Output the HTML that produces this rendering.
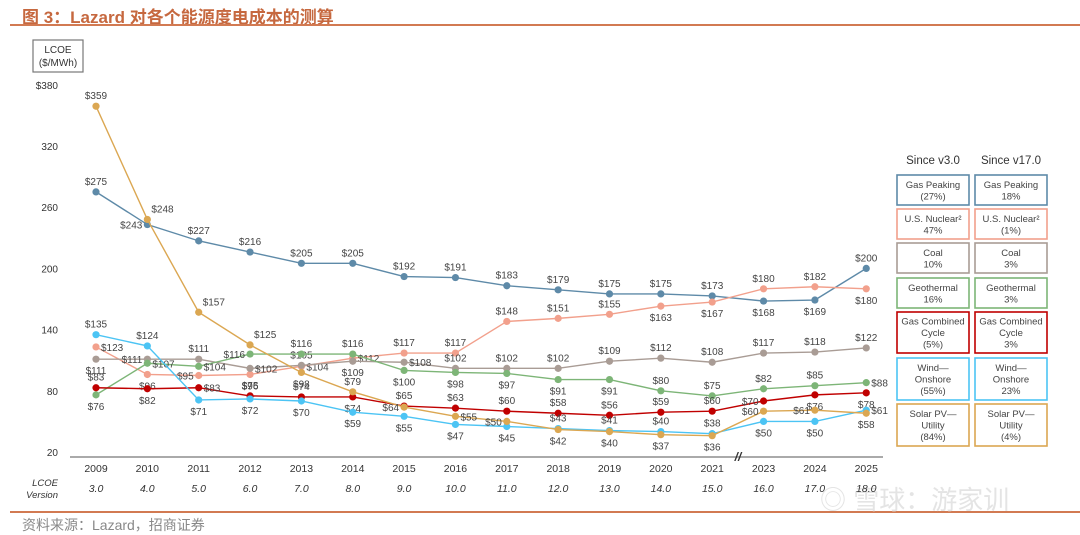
<!DOCTYPE html>
<html><head><meta charset="utf-8"><style>
body{margin:0;background:#fff;width:1080px;height:533px;overflow:hidden;position:relative;font-family:"Liberation Sans","Noto Sans CJK SC",sans-serif}
.t{position:absolute}
</style></head><body>
<div class="t" style="left:22px;top:3px;font-size:17px;font-weight:bold;color:#c6683f">图 3：Lazard 对各个能源度电成本的测算</div>
<div class="t" style="left:10px;top:24px;width:1070px;height:2px;background:#d27a52"></div>
<div class="t" style="left:10px;top:511px;width:1070px;height:2px;background:#d27a52"></div>
<div class="t" style="left:22px;top:515px;font-size:14px;color:#888">资料来源：Lazard，招商证券</div>
<div class="t" style="left:820px;top:480px;font-size:26px;color:#e4e4e4">◎ 雪球：游家训</div>
<svg id="c" width="1080" height="533" style="position:absolute;left:0;top:0"></svg>
<script>
const years=["2009","2010","2011","2012","2013","2014","2015","2016","2017","2018","2019","2020","2021","2023","2024","2025"];
const versions=["3.0","4.0","5.0","6.0","7.0","8.0","9.0","10.0","11.0","12.0","13.0","14.0","15.0","16.0","17.0","18.0"];
const yTicks=[20,80,140,200,260,320,380];
const gasPeaking=[275,243,227,216,205,205,192,191,183,179,175,175,173,168,169,200];
const nuclear=[123,96,95,96,104,112,117,117,148,151,155,163,167,180,182,180];
const coal=[111,111,111,102,105,109,108,102,102,102,109,112,108,117,118,122];
const geothermal=[76,107,104,116,116,116,100,98,97,91,91,80,75,82,85,88];
const gasCC=[83,82,83,75,74,74,65,63,60,58,56,59,60,70,76,78];
const wind=[135,124,71,72,70,59,55,47,45,43,41,40,38,50,50,61];
const solar=[359,248,157,125,98,79,64,55,50,42,40,37,36,60,61,58];
const series=[
 {n:"gas-peaking",v:gasPeaking,c:"#5e8aa8",p:"aLaaaaaaaaaaabba"},
 {n:"us-nuclear",v:nuclear,c:"#f2a08c",p:"rbLbrraaaaabbaab"},
 {n:"coal",v:coal,c:"#a99c95",p:"bLarabraaaaaaaaa"},
 {n:"geothermal",v:geothermal,c:"#7db577",p:"brrLaabbbbbaaaar"},
 {n:"gas-combined-cycle",v:gasCC,c:"#c00000",p:"abraabaaaaaaaLbb"},
 {n:"wind-onshore",v:wind,c:"#4cc4f4",p:"aabbbbbbbaaaabbr"},
 {n:"solar-pv-utility",v:solar,c:"#dba752",p:"aRRRbaLrLbbbbLLb"}
];
const NS="http://www.w3.org/2000/svg";
const svg=document.getElementById('c');
const X=i=>96+i*51.35;
const Y=v=>452-(v-20)*1.02;
function mk(t,a,txt){const e=document.createElementNS(NS,t);for(const k in a)e.setAttribute(k,a[k]);if(txt!=null)e.textContent=txt;svg.appendChild(e);return e;}
// axis box
let b=mk('rect',{x:33,y:40,width:50,height:32,fill:'#fff',stroke:'#777','stroke-width':1.2});


let t1=mk('text',{x:58,y:53,'font-size':10,'text-anchor':'middle',fill:'#333'},'LCOE');


let t2=mk('text',{x:58,y:66,'font-size':10,'text-anchor':'middle',fill:'#333'},'($/MWh)');


yTicks.forEach(v=>{let e=mk('text',{x:58,y:Y(v)+4,'font-size':10,'text-anchor':'end',fill:'#333'},(v===380?'$':'')+v);

});
let ax=mk('line',{x1:70,x2:883,y1:457,y2:457,stroke:'#aaa','stroke-width':2});


let br=mk('text',{x:738,y:461,'font-size':12,'font-weight':'bold','text-anchor':'middle',fill:'#333','font-style':'italic'},'//');


years.forEach((y,i)=>{let e=mk('text',{x:X(i),y:472,'font-size':10.5,'text-anchor':'middle',fill:'#333'},y);


let f=mk('text',{x:X(i),y:492,'font-size':10.5,'text-anchor':'middle',fill:'#333','font-style':'italic'},versions[i]);

});
let lv=mk('text',{x:58,y:486,'font-size':9.5,'text-anchor':'end',fill:'#333','font-style':'italic'},'LCOE');


let lv2=mk('text',{x:58,y:498,'font-size':9.5,'text-anchor':'end',fill:'#333','font-style':'italic'},'Version');


series.forEach(s=>{
 const pts=s.v.map((v,i)=>X(i)+','+Y(v)).join(' ');
 let pl=mk('polyline',{points:pts,fill:'none',stroke:s.c,'stroke-width':1.4});
 
 
 s.v.forEach((v,i)=>{
  let c=mk('circle',{cx:X(i),cy:Y(v),r:3.6,fill:s.c});
  
  
  const p=s.p[i];let x=X(i),y=Y(v),a='middle';
  if(p==='a'){y-=7;}else if(p==='b'){y+=15;}else if(p==='r'){x+=5;y+=4;a='start';}
  else if(p==='L'){x-=5;y+=4;a='end';}else if(p==='R'){x+=4;y-=7;a='start';}
  let l=mk('text',{x:x,y:y,'font-size':10,'text-anchor':a,fill:'#444'},'$'+v);
  
  
 });
});
// legend
const legNames=[["Gas Peaking"],["U.S. Nuclear²"],["Coal"],["Geothermal"],["Gas Combined","Cycle"],["Wind—","Onshore"],["Solar PV—","Utility"]];
const since3=["(27%)","47%","10%","16%","(5%)","(55%)","(84%)"];
const since17=["18%","(1%)","3%","3%","3%","23%","(4%)"];
const rowTop=[175,209,243,278,312,358,404];
const rowH=[30,30,30,30,41,42,42];
let h1=mk('text',{x:933,y:164,'font-size':11.5,'text-anchor':'middle',fill:'#333'},'Since v3.0');


let h2=mk('text',{x:1011,y:164,'font-size':11.5,'text-anchor':'middle',fill:'#333'},'Since v17.0');


series.forEach((s,k)=>{
 [[897,since3],[975,since17]].forEach(([lx,arr])=>{
  let r=mk('rect',{x:lx,y:rowTop[k],width:72,height:rowH[k],fill:'#fff',stroke:s.c,'stroke-width':1.6});
  
  
  const lines=legNames[k].concat([arr[k]]);
  const lh=11.5, start=rowTop[k]+rowH[k]/2-(lines.length-1)*lh/2+3.5;
  lines.forEach((ln,j)=>{let e=mk('text',{x:lx+36,y:start+j*lh,'font-size':9.5,'text-anchor':'middle',fill:'#444'},ln);
  
  });
 });
});
</script>
</body></html>
